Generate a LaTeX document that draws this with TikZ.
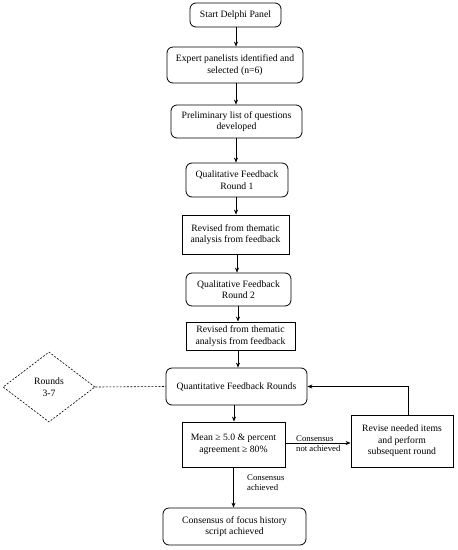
\documentclass[tikz,border=0pt]{standalone}
\usepackage{fontspec}
\setmainfont{Liberation Serif}
\usetikzlibrary{arrows.meta,shapes.geometric}
\begin{document}
\begin{tikzpicture}[x=1pt,y=-1pt,
  every node/.style={font=\fontsize{9.7}{11.5}\selectfont, align=center, inner sep=0pt},
  rbox/.style={draw, line width=0.8pt, rounded corners=6pt, minimum width=#1},
  sbox/.style={draw, line width=0.8pt, minimum width=#1},
  conn/.style={line width=0.8pt, -{Stealth[length=5pt,width=4pt]}},
  dline/.style={line width=0.6pt, dash pattern=on 2pt off 1.5pt},
  lbl/.style={font=\fontsize{8.7}{10}\selectfont, align=left}
]
\useasboundingbox (0,0) rectangle (458,550);
\node[rbox=91pt, minimum height=24pt] (start) at (235.5,15) {Start Delphi Panel};
\node[rbox=136pt, minimum height=36pt] (expert) at (235,65) {Expert panelists identified and\\selected (n=6)};
\node[rbox=131pt, minimum height=33pt] (prelim) at (236.5,121.5) {Preliminary list of questions\\developed};
\node[rbox=102pt, minimum height=34pt] (qual1) at (237,180) {Qualitative Feedback\\Round 1};
\node[sbox=107pt, minimum height=39pt] (rev1) at (235.5,234.5) {Revised from thematic\\analysis from feedback};
\node[rbox=105pt, minimum height=33pt] (qual2) at (238.5,289.5) {Qualitative Feedback\\Round 2};
\node[sbox=109pt, minimum height=28pt] (rev2) at (240.5,336) {Revised from thematic\\analysis from feedback};
\node[rbox=141pt, minimum height=37pt] (quant) at (236.5,386.5) {Quantitative Feedback Rounds};
\node[sbox=103pt, minimum height=45pt] (mean) at (233.5,444.5) {Mean ≥ 5.0 \& percent\\agreement ≥ 80\%};
\node[sbox=102pt, minimum height=52pt] (revise) at (402,441) {Revise needed items\\and perform\\subsequent round};
\node[rbox=143pt, minimum height=37pt] (final) at (234.5,526.5) {Consensus of focus history\\script achieved};
\node[draw, dline, diamond, minimum width=92pt, minimum height=70pt] (rounds) at (49,387) {Rounds\\3-7};

\draw[conn] (236,27) coordinate (s1) -- (s1 |- expert.north);
\draw[conn] (236,83) coordinate (s2) -- (s2 |- prelim.north);
\draw[conn] (236,138) coordinate (s3) -- (s3 |- qual1.north);
\draw[conn] (236,197) coordinate (s4) -- (s4 |- rev1.north);
\draw[conn] (237,254) coordinate (s5) -- (s5 |- qual2.north);
\draw[conn] (238,306) coordinate (s6) -- (s6 |- rev2.north);
\draw[conn] (238,350) coordinate (s7) -- (s7 |- quant.north);
\draw[conn] (234,405) coordinate (s8) -- (s8 |- mean.north);
\draw[conn] (mean.south) -- (mean.south |- final.north);
\draw[conn] (mean.east |- 0,443) coordinate (m1) -- (m1 -| revise.west);
\draw[conn] ([xshift=6pt]revise.north) -- ([xshift=6pt]revise.north |- quant.east) -- (quant.east);
\draw[dline] (rounds.east) -- (quant.west);

\node[lbl, anchor=west] (l1) at (296,444) {Consensus\\not achieved};
\node[lbl, anchor=west] (l2) at (247,483) {Consensus\\achieved};
\end{tikzpicture}
\end{document}
